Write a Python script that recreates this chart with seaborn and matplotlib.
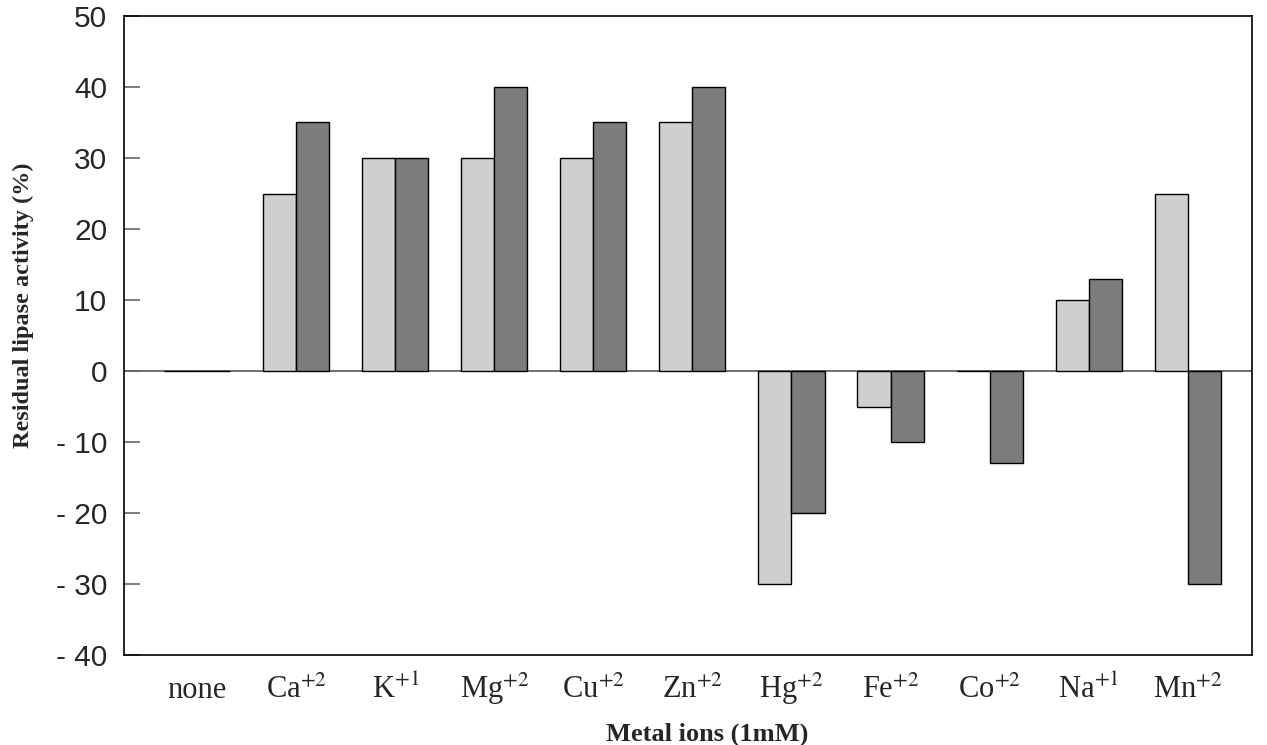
import matplotlib
matplotlib.use("Agg")
import matplotlib.pyplot as plt
import seaborn as sns
import pandas as pd

categories = ["none", "Ca", "K", "Mg", "Cu", "Zn", "Hg", "Fe", "Co", "Na", "Mn"]
charges = ["", "+2", "+1", "+2", "+2", "+2", "+2", "+2", "+2", "+1", "+2"]
series_a = [0, 25, 30, 30, 30, 35, -30, -5, 0, 10, 25]
series_b = [0, 35, 30, 40, 35, 40, -20, -10, -13, 13, -30]
series_names = ["A", "B"]
yticks = [-40, -30, -20, -10, 0, 10, 20, 30, 40, 50]
ytick_labels = ["- 40", "- 30", "- 20", "- 10", "0", "10", "20", "30", "40", "50"]

sns.set_theme(style="white")
plt.rcParams["mathtext.fontset"] = "stix"

df = pd.DataFrame({
    "ion": categories * 2,
    "value": series_a + series_b,
    "series": [series_names[0]] * len(categories) + [series_names[1]] * len(categories),
})

W, H = 1267, 745
fig = plt.figure(figsize=(W / 100, H / 100), dpi=100)
ax = fig.add_axes([124 / W, 1 - 655 / H, (1252 - 124) / W, (655 - 16) / H])

sns.barplot(data=df, x="ion", y="value", hue="series", order=categories,
            hue_order=series_names, palette=["#cfcfcf", "#7c7c7c"],
            width=0.667, edgecolor="black", linewidth=1.0, ax=ax, legend=False,
            saturation=1)

ax.axhline(0, color="#555555", lw=1.2, zorder=0.5)
ax.set_xlim(-0.74, 10.65)
ax.set_ylim(-40, 50)
ax.set_yticks(yticks)
ax.set_yticklabels(ytick_labels, fontfamily="Liberation Sans", fontsize=21.5)
xlabels = [c if not q else c + r"$^{" + q + "}$" for c, q in zip(categories, charges)]
ax.set_xticks(range(len(categories)))
ax.set_xticklabels(xlabels, fontfamily="Liberation Serif", fontsize=22)
for lab in ax.get_xticklabels():
    lab.set_verticalalignment("baseline")
ax.tick_params(axis="y", direction="in", length=11.5, width=1.2, color="#666666", pad=12, left=True)
ax.tick_params(axis="x", length=0, pad=31)
for s in ax.spines.values():
    s.set_color("black")
    s.set_linewidth(1.2)
    s.set_visible(True)

ax.set_xlabel("Metal ions (1mM)", fontfamily="Liberation Serif", fontweight="bold", fontsize=19)
ax.xaxis.label.set_verticalalignment("baseline")
ax.xaxis.set_label_coords((707 - 124) / 1128, (655 - 741) / 639)
ax.set_ylabel("Residual lipase activity (%)", fontfamily="Liberation Serif", fontweight="bold", fontsize=17.5)
ax.yaxis.label.set_verticalalignment("center")
ax.yaxis.set_label_coords((23 - 124) / 1128, (655 - 305) / 639)

fig.savefig("out.png", dpi=100, facecolor="white")
